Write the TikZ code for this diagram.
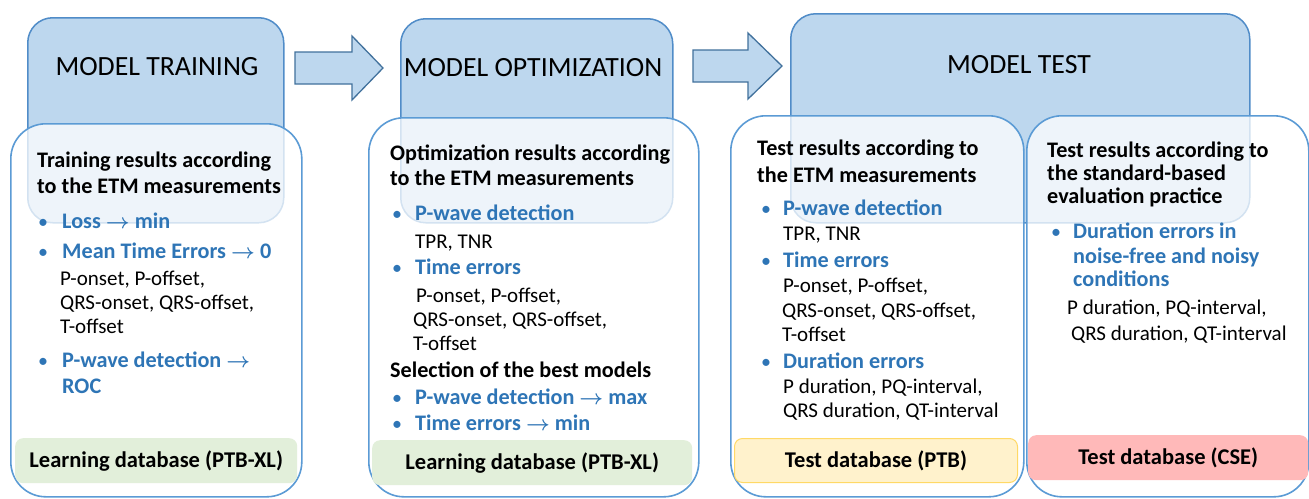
\documentclass[tikz,border=0pt]{standalone}
\usepackage{fontspec}
\setmainfont{Carlito}
\definecolor{hdrfill}{RGB}{189,215,238}
\definecolor{hdrdraw}{RGB}{80,140,200}
\definecolor{paneldraw}{RGB}{91,155,213}
\definecolor{arrdraw}{RGB}{65,113,156}
\definecolor{txtblue}{RGB}{46,117,182}
\definecolor{dbgreen}{RGB}{226,239,218}
\definecolor{dbyellow}{RGB}{255,242,204}
\definecolor{dbyellowd}{RGB}{255,217,102}
\definecolor{dbpink}{RGB}{255,185,185}
\begin{document}
\begin{tikzpicture}[x=1pt,y=-1pt,
  hdrbox/.style={draw=hdrdraw,line width=1.5pt,fill=hdrfill,rounded corners=25pt,anchor=north west,inner sep=0pt},
  panelbox/.style={draw=paneldraw,line width=1.6pt,fill=white,fill opacity=0.75,draw opacity=1,rounded corners=35pt,anchor=north west,inner sep=0pt},
  dbbox/.style={rounded corners=8pt,anchor=north west,inner sep=0pt,font=\bfseries\fontsize{22.5}{26}\selectfont,text=black},
  blockarrow/.style={draw=arrdraw,line width=1.3pt,fill=hdrfill},
  hdtext/.style={font=\fontsize{27.8}{33}\selectfont,anchor=base,inner sep=0pt},
  tb/.style={font=\boldmath\bfseries\fontsize{22.2}{26}\selectfont,anchor=base west,inner sep=0pt},
  bl/.style={tb,text=txtblue},
  blt/.style={font=\fontsize{20}{26}\selectfont,anchor=base west,inner sep=0pt,text=txtblue},
  sub/.style={font=\fontsize{21}{24}\selectfont,anchor=base west,inner sep=0pt}
]
\useasboundingbox (0,0) rectangle (1309,498);
\fill[white] (0,0) rectangle (1309,498);
% headers
\node[hdrbox,minimum width=256pt,minimum height=205pt] (h1) at (27,17) {};
\node[hdrbox,minimum width=272pt,minimum height=204pt] (h2) at (400,18) {};
\node[hdrbox,minimum width=459pt,minimum height=209pt] (h3) at (790,13) {};
\node[hdtext] (h1t) at (157,75) {MODEL TRAINING};
\node[hdtext] (h2t) at (533,76) {MODEL OPTIMIZATION};
\node[hdtext] (h3t) at (1019,73) {MODEL TEST};
% block arrows
\draw[blockarrow] (295,52) -- (352,52) -- (352,36) -- (383,68) -- (352,100) -- (352,84) -- (295,84) -- cycle;
\draw[blockarrow] (693,50) -- (748,50) -- (748,33) -- (782,66) -- (748,99) -- (748,82) -- (693,82) -- cycle;
% panels
\node[panelbox,minimum width=291pt,minimum height=373pt] (p1) at (10,123) {};
\node[panelbox,minimum width=330pt,minimum height=379pt] (p2) at (368,117) {};
\node[panelbox,minimum width=293pt,minimum height=381pt] (p3) at (730,115) {};
\node[panelbox,minimum width=282pt,minimum height=381pt] (p4) at (1026,115) {};
% database boxes
\node[dbbox,fill=dbgreen,minimum width=282pt,minimum height=45pt] (d1) at (15,438) {Learning database (PTB-XL)};
\node[dbbox,fill=dbgreen,minimum width=320pt,minimum height=45pt] (d2) at (372,440) {Learning database (PTB-XL)};
\node[dbbox,fill=dbyellow,draw=dbyellowd,line width=1pt,minimum width=283pt,minimum height=44pt] (d3) at (734,438) {Test database (PTB)};
\node[dbbox,fill=dbpink,minimum width=280pt,minimum height=45pt] (d4) at (1028,435) {Test database (CSE)};
% panel 1
\node[tb] (a1) at (37,167) {Training results according};
\node[tb] (a2) at (37,193) {to the ETM measurements};
\node[blt] (a3b) at (38,228) {•};
\node[bl] (a3) at (62,228) {Loss $\rightarrow$ min};
\node[blt] (a4b) at (38,258) {•};
\node[bl] (a4) at (62,258) {Mean Time Errors $\rightarrow$ 0};
\node[sub] (a5) at (60,285) {P-onset, P-offset,};
\node[sub] (a6) at (60,309) {QRS-onset, QRS-offset,};
\node[sub] (a7) at (60,333) {T-offset};
\node[blt] (a8b) at (38,367) {•};
\node[bl] (a8) at (62,367) {P-wave detection $\rightarrow$};
\node[bl] (a9) at (62,393) {ROC};
% panel 2
\node[tb] (b1) at (390,160) {Optimization results according};
\node[tb] (b2) at (390,185) {to the ETM measurements};
\node[blt] (b3b) at (392,220) {•};
\node[bl] (b3) at (415,220) {P-wave detection};
\node[sub] (b4) at (415,248) {TPR, TNR};
\node[blt] (b5b) at (392,274) {•};
\node[bl] (b5) at (415,274) {Time errors};
\node[sub] (b6) at (416,302) {P-onset, P-offset,};
\node[sub] (b7) at (413,326) {QRS-onset, QRS-offset,};
\node[sub] (b8) at (413,350) {T-offset};
\node[tb] (b9) at (390,377) {Selection of the best models};
\node[blt] (b10b) at (392,404) {•};
\node[bl] (b10) at (415,404) {P-wave detection $\rightarrow$ max};
\node[blt] (b11b) at (392,430) {•};
\node[bl] (b11) at (415,430) {Time errors $\rightarrow$ min};
% panel 3
\node[tb] (c1) at (757,155) {Test results according to};
\node[tb] (c2) at (757,182) {the ETM measurements};
\node[blt] (c3b) at (761,215) {•};
\node[bl] (c3) at (783,215) {P-wave detection};
\node[sub] (c4) at (783,240) {TPR, TNR};
\node[blt] (c5b) at (761,267) {•};
\node[bl] (c5) at (783,267) {Time errors};
\node[sub] (c6) at (783,292) {P-onset, P-offset,};
\node[sub] (c7) at (782,317) {QRS-onset, QRS-offset,};
\node[sub] (c8) at (782,341) {T-offset};
\node[blt] (c9b) at (761,368) {•};
\node[bl] (c9) at (783,368) {Duration errors};
\node[sub] (c10) at (783,393) {P duration, PQ-interval,};
\node[sub] (c11) at (783,417) {QRS duration, QT-interval};
% panel 4
\node[tb] (e1) at (1047,157) {Test results according to};
\node[tb] (e2) at (1047,180) {the standard-based};
\node[tb] (e3) at (1047,203) {evaluation practice};
\node[blt] (e4b) at (1051,238) {•};
\node[bl] (e4) at (1073,238) {Duration errors in};
\node[bl] (e5) at (1073,263) {noise-free and noisy};
\node[bl] (e6) at (1073,286) {conditions};
\node[sub] (e7) at (1067,314) {P duration, PQ-interval,};
\node[sub] (e8) at (1071,340) {QRS duration, QT-interval};
\end{tikzpicture}
\end{document}
